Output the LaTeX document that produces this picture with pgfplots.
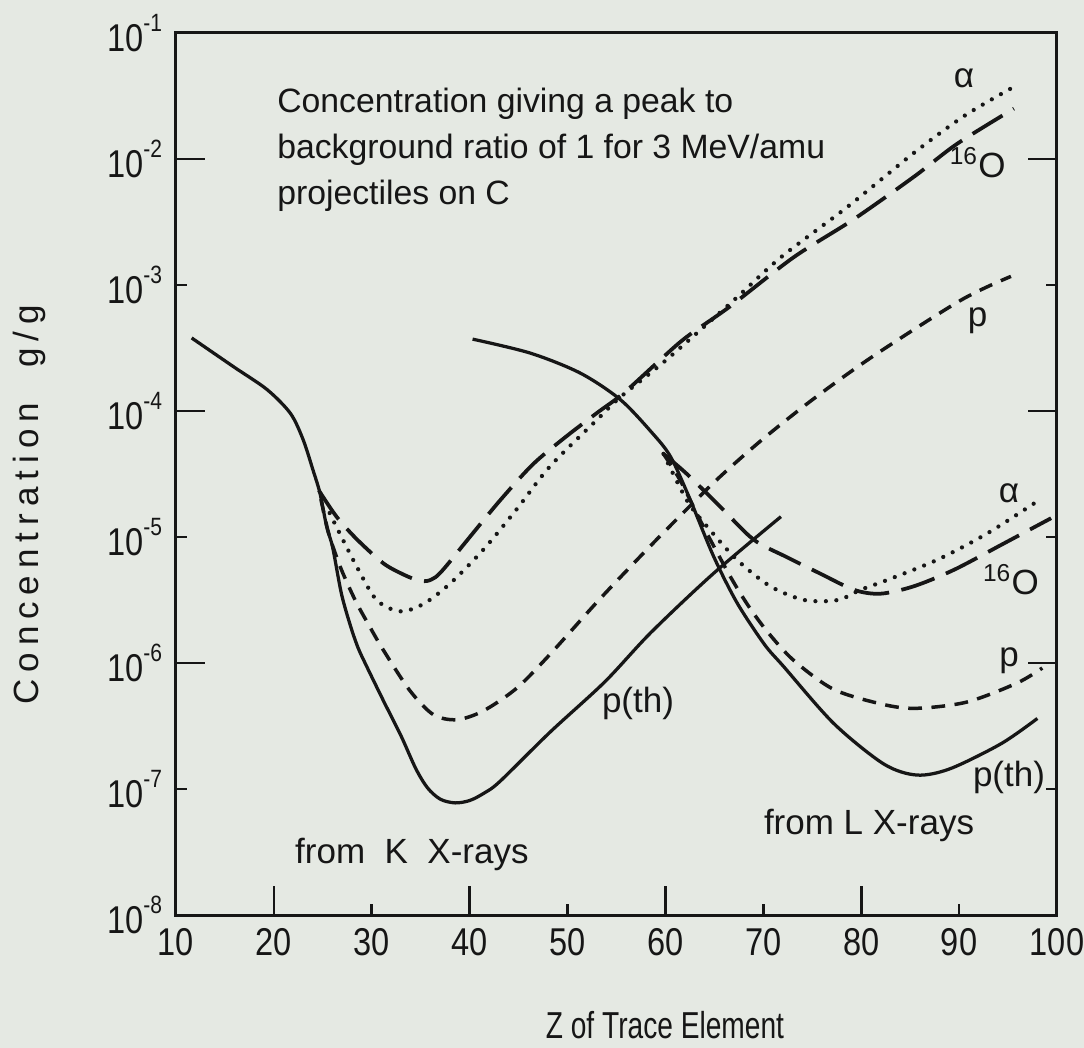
\documentclass[border=0pt]{standalone}
\usepackage{pgfplots}
\pgfplotsset{compat=1.18}
\usepackage{fontspec}
\setmainfont{Liberation Sans}
\newfontfamily\narrow[FakeStretch=0.75]{Liberation Sans}
\newfontfamily\ticknarrow[FakeStretch=0.84]{Liberation Sans}
\definecolor{paper}{RGB}{229,233,227}
\definecolor{ink}{RGB}{22,22,22}
\newcommand{\dec}[1]{10\raisebox{0.5em}{\fontsize{10}{10}\selectfont -#1}}

\begin{document}
\begin{tikzpicture}[x=1pt,y=1pt]
\path[use as bounding box, fill=paper] (-70.4,-53.2) rectangle (363.2,366);
\begin{axis}[
  at={(0pt,0pt)}, anchor=south west,
  scale only axis, width=352.4pt, height=352.8pt,
  xmin=10, xmax=100, ymin=1e-8, ymax=1e-1, ymode=log,
  clip=false,
  axis line style={line width=1.2pt, draw=ink},
  tick style={line width=1.1pt, draw=ink},
  tick align=inside,
  xtick pos=left,
  ytick pos=both,
  yticklabel pos=left,
  major tick length=4.5pt,
  xtick={10,20,30,40,50,60,70,80,90,100},
  xticklabels={10,20,30,40,50,60,70,80,90,100},
  ytick={1e-8,1e-7,1e-6,1e-5,1e-4,1e-3,1e-2,1e-1},
  yticklabels={\dec{8},\dec{7},\dec{6},\dec{5},\dec{4},\dec{3},\dec{2},\dec{1}},
  xminorticks=false, yminorticks=false,
  extra x ticks={20,40,60,80}, extra x tick labels={},
  extra x tick style={major tick length=11.5pt},
  extra y ticks={1e-6,1e-4,1e-2}, extra y tick labels={},
  extra y tick style={major tick length=11.5pt},
  tick label style={font=\ticknarrow\fontsize{15.5}{15.5}\selectfont, text=ink},
  xticklabel style={yshift=-2pt},
  yticklabel style={xshift=-2pt},
  xlabel={Z of Trace Element},
  xlabel style={font=\narrow\fontsize{15}{15}\selectfont, text=ink, at={(axis description cs:0.555,0)}, anchor=center, yshift=-44pt},
  ylabel={Concentration\quad g/g},
  ylabel style={font=\fontsize{14}{14}\selectfont\addfontfeatures{LetterSpace=20}, text=ink, at={(axis description cs:-0.166,0.465)}, anchor=center},
]
% p(th), K X-rays (solid)
\addplot[ink, line width=1.3pt, smooth, tension=0.5] coordinates {
(11.6,3.80e-4) (15.9,2.24e-4) (19.3,1.48e-4) (21.7,9.55e-5) (23.0,5.89e-5)
(24.0,3.39e-5) (24.7,2.24e-5) (25.4,1.20e-5) (26.0,8.3e-6) (26.9,3.55e-6)
(27.8,2.0e-6) (28.6,1.32e-6) (29.5,9.33e-7) (31.2,5.0e-7) (33.0,2.63e-7)
(34.5,1.45e-7) (35.7,1.02e-7) (37.0,8.3e-8) (38.5,7.76e-8) (40.0,8.1e-8)
(41.5,9.3e-8) (43.1,1.15e-7) (48.2,2.82e-7) (53.8,7.08e-7) (58.5,1.74e-6)
(64.9,5.13e-6) (71.8,1.45e-5)};
% p, K X-rays (short dashes)
\addplot[ink, line width=1.4pt, dash pattern=on 5.5pt off 3.8pt, smooth, tension=0.5] coordinates {
(24.8,2.0e-5) (25.6,1.07e-5) (26.8,5.75e-6) (28.3,3.16e-6) (29.7,2.0e-6)
(31.2,1.26e-6) (33.9,6.03e-7) (36.3,3.89e-7) (38.7,3.55e-7) (41.4,4.17e-7)
(44.8,6.31e-7) (48.2,1.17e-6) (53.2,3.16e-6) (58.1,7.94e-6) (61.9,1.58e-5)
(65.6,3.02e-5) (70.0,6.03e-5) (75.2,1.26e-4) (81.3,2.75e-4) (90.2,7.59e-4)
(95.3,1.17e-3)};
% alpha, K X-rays (dotted)
\addplot[ink, line width=1.7pt, line cap=round, dash pattern=on 0pt off 4.2pt, smooth, tension=0.5] coordinates {
(25.7,1.55e-5) (26.4,1.20e-5) (28.5,5.75e-6) (30.5,3.16e-6) (32.9,2.57e-6)
(35.3,2.95e-6) (38.0,4.27e-6) (41.4,7.94e-6) (44.8,1.66e-5) (48.2,3.63e-5)
(53.0,8.51e-5) (55.4,1.29e-4) (60.0,2.51e-4) (67.0,7.59e-4) (71.8,1.66e-3)
(78.6,4.17e-3) (85.4,1.12e-2) (90.5,2.19e-2) (95.3,3.63e-2)};
% 16O, K X-rays (long dashes)
\addplot[ink, line width=1.5pt, dash pattern=on 14pt off 5pt, smooth, tension=0.5] coordinates {
(24.6,2.34e-5) (26.4,1.45e-5) (28.5,9.55e-6) (31.2,6.17e-6) (33.3,5.01e-6)
(34.6,4.57e-6) (35.6,4.47e-6) (36.5,4.79e-6) (37.5,5.75e-6) (39.7,9.33e-6)
(43.1,1.95e-5) (46.5,3.80e-5) (49.9,6.31e-5) (53.1,9.77e-5) (55.7,1.38e-4)
(59.8,2.69e-4) (62.2,3.89e-4) (66.6,6.76e-4) (73.1,1.66e-3) (79.2,3.31e-3)
(85.4,7.24e-3) (89.8,1.32e-2) (95.6,2.51e-2)};
% p(th), L X-rays (solid)
\addplot[ink, line width=1.3pt, smooth, tension=0.5] coordinates {
(40.3,3.72e-4) (46.2,2.88e-4) (51.3,2.0e-4) (55.4,1.23e-4) (58.6,6.76e-5)
(60.5,4.37e-5) (62.4,2.09e-5) (64.9,7.08e-6) (67.3,3.02e-6) (70.1,1.41e-6)
(72.1,9.33e-7) (77.2,3.31e-7) (82.3,1.58e-7) (85.7,1.29e-7) (89.1,1.45e-7)
(94.3,2.29e-7) (98.0,3.63e-7)};
% p, L X-rays (short dashes)
\addplot[ink, line width=1.4pt, dash pattern=on 5.5pt off 3.8pt, smooth, tension=0.5] coordinates {
(59.8,4.57e-5) (61.5,2.82e-5) (63.9,1.20e-5) (66.6,4.90e-6) (68.5,2.82e-6)
(70.5,1.74e-6) (73.1,1.05e-6) (77.2,6.17e-7) (82.3,4.68e-7) (85.7,4.37e-7)
(90.8,4.90e-7) (95.9,6.92e-7) (98.5,9.12e-7)};
% alpha, L X-rays (dotted)
\addplot[ink, line width=1.7pt, line cap=round, dash pattern=on 0pt off 4.2pt, smooth, tension=0.5] coordinates {
(59.8,4.57e-5) (62.2,1.95e-5) (64.3,1.20e-5) (67.3,6.61e-6) (70.7,4.07e-6)
(74.2,3.16e-6) (77.6,3.16e-6) (79.9,3.80e-6) (82.7,4.57e-6) (87.8,6.61e-6)
(92.9,1.07e-5) (98.5,2.04e-5)};
% 16O, L X-rays (long dashes)
\addplot[ink, line width=1.5pt, dash pattern=on 14pt off 5pt, smooth, tension=0.5] coordinates {
(59.8,4.57e-5) (62.2,3.16e-5) (65.6,1.74e-5) (69.0,9.55e-6) (72.4,6.92e-6)
(75.8,5.13e-6) (79.3,3.80e-6) (82.0,3.55e-6) (85.4,4.07e-6) (89.5,5.50e-6)
(94.6,8.91e-6) (99.4,1.41e-5)};

\node[anchor=north west, align=left, inner sep=0pt, text=ink, font=\fontsize{13.5}{18.4}\selectfont] at (axis cs:20.3,3.66e-2)
  {Concentration giving a peak to\\background ratio of 1 for 3 MeV/amu\\projectiles on C};
\begin{scope}[every node/.style={text=ink, font=\fontsize{14}{14}\selectfont, inner sep=0pt}]
\node at (axis cs:90.5,4.4e-2) {α};
\node at (axis cs:91.9,9.3e-3) {\textsuperscript{16}O};
\node at (axis cs:91.9,5.2e-4) {p};
\node at (axis cs:95.1,2.24e-5) {α};
\node at (axis cs:95.3,4.6e-6) {\textsuperscript{16}O};
\node at (axis cs:95.1,1.05e-6) {p};
\node at (axis cs:57.2,4.8e-7) {p(th)};
\node at (axis cs:95.1,1.23e-7) {p(th)};
\node at (axis cs:34.1,3.0e-8) {from\ \ K\ \ X-rays};
\node at (axis cs:80.8,5.1e-8) {from L X-rays};
\end{scope}
\end{axis}
\end{tikzpicture}
\end{document}
